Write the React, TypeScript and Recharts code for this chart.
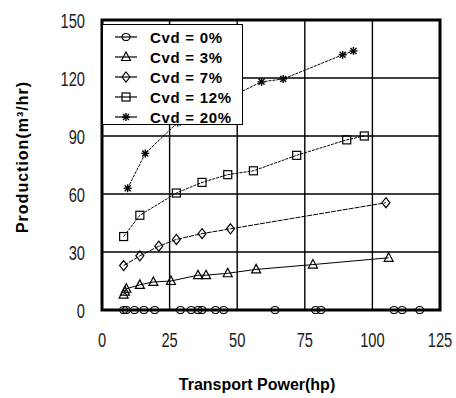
import React from 'react'
import {
  LineChart,
  Line,
  XAxis,
  YAxis,
  CartesianGrid,
  Legend,
  ReferenceArea,
} from 'recharts'

// values: x = transport power (hp), y = production (m3/hr)
const cvd0X = [8, 9, 12, 15.5, 19.5, 29, 33, 35.5, 37, 42, 45, 64, 79, 81, 108, 111, 117.5]
const cvd0Y = [0, 0, 0, 0, 0, 0, 0, 0, 0, 0, 0, 0, 0, 0, 0, 0, 0]
const cvd3X = [8, 8.5, 9, 14, 19, 25.5, 35.5, 38.5, 46.5, 57, 78, 106]
const cvd3Y = [8, 9.5, 11, 13, 14.5, 15, 18, 18, 19, 21, 23.5, 27]
const cvd7X = [8, 14, 21, 27.5, 37, 47.5, 105]
const cvd7Y = [23, 28, 33, 36.5, 39.5, 42, 55.5]
const cvd12X = [8, 14, 27.5, 37, 46.5, 56, 72, 90.5, 97]
const cvd12Y = [38, 49, 60.5, 66, 70, 72, 80, 88, 90]
const cvd20X = [9.5, 16, 28, 59, 67, 89, 93]
const cvd20Y = [63, 81, 97, 118, 119.5, 132, 134]

const xTicks = [0, 25, 50, 75, 100, 125]
const yTicks = [0, 30, 60, 90, 120, 150]

const toPoints = (xs: number[], ys: number[]) => xs.map((x, i) => ({ x, y: ys[i] }))

type Shape = 'circle' | 'triangle' | 'diamond' | 'square' | 'star'

const series: { name: string; shape: Shape; data: { x: number; y: number }[]; dash?: string }[] = [
  { name: 'Cvd = 0%', shape: 'circle', data: toPoints(cvd0X, cvd0Y) },
  { name: 'Cvd = 3%', shape: 'triangle', data: toPoints(cvd3X, cvd3Y) },
  { name: 'Cvd = 7%', shape: 'diamond', data: toPoints(cvd7X, cvd7Y), dash: '5 1' },
  { name: 'Cvd = 12%', shape: 'square', data: toPoints(cvd12X, cvd12Y), dash: '3 1' },
  { name: 'Cvd = 20%', shape: 'star', data: toPoints(cvd20X, cvd20Y), dash: '3 1' },
]

const Marker = ({ shape, cx, cy }: { shape: Shape; cx: number; cy: number }) => {
  const s = { fill: 'none', stroke: '#000', strokeWidth: 1.2 }
  if (shape === 'circle') return <ellipse cx={cx} cy={cy} rx={4} ry={3.5} {...s} />
  if (shape === 'triangle')
    return <polygon points={`${cx},${cy - 5} ${cx - 4.5},${cy + 3.5} ${cx + 4.5},${cy + 3.5}`} {...s} />
  if (shape === 'diamond')
    return <polygon points={`${cx},${cy - 5} ${cx + 4},${cy} ${cx},${cy + 5} ${cx - 4},${cy}`} {...s} />
  if (shape === 'square') return <rect x={cx - 4} y={cy - 4} width={8} height={8} {...s} />
  return (
    <g stroke="#000" strokeWidth={1.4}>
      <line x1={cx - 4} y1={cy} x2={cx + 4} y2={cy} />
      <line x1={cx} y1={cy - 4} x2={cx} y2={cy + 4} />
      <line x1={cx - 3} y1={cy - 3} x2={cx + 3} y2={cy + 3} />
      <line x1={cx - 3} y1={cy + 3} x2={cx + 3} y2={cy - 3} />
    </g>
  )
}

// the original tick font is tall and narrow: squeeze a regular sans horizontally
const tickFont = '"Liberation Sans", Arial, sans-serif'

const YTick = ({ x, y, payload }: any) => (
  <g transform={`translate(${x},${y}) scale(0.7,1)`}>
    <text x={0} y={0} dy="0.36em" textAnchor="end" fontFamily={tickFont} fontSize={21} fill="#222">
      {payload.value}
    </text>
  </g>
)

const XTick = ({ x, y, payload }: any) => (
  <g transform={`translate(${x},${y}) scale(0.7,1)`}>
    <text x={0} y={0} dy="0.72em" textAnchor="middle" fontFamily={tickFont} fontSize={21} fill="#222">
      {payload.value}
    </text>
  </g>
)

const LegendBox = () => (
  <div
    style={{
      background: '#fff',
      border: '1.5px solid #000',
      width: 141,
      height: 101,
      boxSizing: 'border-box',
      padding: '2px 0 0 12px',
    }}
  >
    {series.map((s) => (
      <div key={s.name} style={{ display: 'flex', alignItems: 'center', height: 20 }}>
        <svg width={22} height={14}>
          <line x1={0} y1={7} x2={22} y2={7} stroke="#000" strokeWidth={1.2} />
          <Marker shape={s.shape} cx={11} cy={7} />
        </svg>
        <span
          style={{
            marginLeft: 13,
            fontFamily: '"Liberation Sans", Arial, sans-serif',
            fontWeight: 700,
            fontSize: 15,
            letterSpacing: 0.7,
            color: '#000',
            whiteSpace: 'pre',
          }}
        >
          {s.name}
        </span>
      </div>
    ))}
  </div>
)

const titleFont = '"Liberation Sans", Arial, sans-serif'

export default function App() {
  return (
    <div style={{ width: 456, height: 398, background: '#fff' }}>
      <style>{'body{margin:0}'}</style>
      <LineChart width={456} height={398} margin={{ top: 20, right: 16, left: 0, bottom: 0 }}>
        <CartesianGrid stroke="#000" strokeWidth={1.4} horizontalValues={yTicks} verticalValues={xTicks} />
        <XAxis
          type="number"
          dataKey="x"
          domain={[0, 125]}
          ticks={xTicks}
          height={88}
          axisLine={false}
          tickLine={false}
          tickSize={0}
          tickMargin={22}
          tick={<XTick />}
          label={{
            content: ({ viewBox }: any) => (
              <text
                x={viewBox.x + viewBox.width / 2 - 14}
                y={viewBox.y + 80}
                textAnchor="middle"
                fontFamily={titleFont}
                fontWeight={700}
                fontSize={16}
                fill="#000"
              >
                Transport Power(hp)
              </text>
            ),
          }}
        />
        <YAxis
          type="number"
          dataKey="y"
          domain={[0, 150]}
          ticks={yTicks}
          width={102}
          axisLine={false}
          tickLine={false}
          tickSize={0}
          tickMargin={17}
          tick={<YTick />}
          label={{
            content: ({ viewBox }: any) => {
              const cx = viewBox.x + 22
              const cy = viewBox.y + viewBox.height / 2 - 8
              return (
                <text
                  x={cx}
                  y={cy}
                  transform={`rotate(-90 ${cx} ${cy})`}
                  dy="0.35em"
                  textAnchor="middle"
                  fontFamily={titleFont}
                  fontWeight={700}
                  fontSize={16}
                  letterSpacing={1}
                  fill="#000"
                >
                  Production(m³/hr)
                </text>
              )
            },
          }}
        />
        <ReferenceArea x1={0} x2={125} y1={0} y2={150} fill="none" stroke="#000" strokeWidth={3} />
        {series.map((s) => (
          <Line
            key={s.name}
            data={s.data}
            dataKey="y"
            name={s.name}
            type="linear"
            stroke="#000"
            strokeWidth={1}
            strokeDasharray={s.dash}
            isAnimationActive={false}
            dot={(p: any) => <Marker key={`${s.name}-${p.index}`} shape={s.shape} cx={p.cx} cy={p.cy} />}
            activeDot={false}
          />
        ))}
        <Legend
          layout="horizontal"
          align="center"
          verticalAlign="middle"
          content={<LegendBox />}
          wrapperStyle={{ left: 102, top: 24, width: 141, height: 101 }}
        />
      </LineChart>
    </div>
  )
}
